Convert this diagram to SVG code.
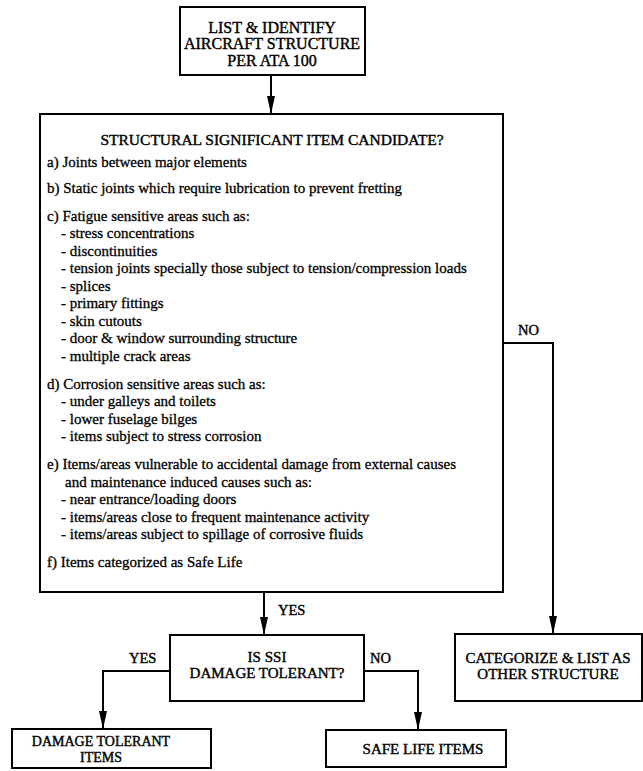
<svg xmlns="http://www.w3.org/2000/svg" width="643" height="771" viewBox="0 0 643 771">
<defs>
<marker id="arr" markerWidth="18" markerHeight="8" refX="18" refY="4" orient="auto" markerUnits="userSpaceOnUse" viewBox="0 0 18 8">
<path d="M0,0 L18,4 L0,8 Z" fill="#000"/>
</marker>
</defs>
<style>
.box{fill:#fff;stroke:#000;stroke-width:2}
.ln{fill:none;stroke:#000;stroke-width:2}
.t{font-family:"Liberation Serif","Times New Roman",serif;font-size:15px;fill:#000;stroke:#000;stroke-width:0.3}
.c{font-family:"Liberation Serif","Times New Roman",serif;font-size:15px;fill:#000;stroke:#000;stroke-width:0.4;text-anchor:middle}
.l{font-family:"Liberation Serif","Times New Roman",serif;font-size:14.5px;fill:#000;stroke:#000;stroke-width:0.4}
</style>
<rect width="643" height="771" fill="#fff"/>
<g id="connectors">
<line class="ln" x1="271" y1="75" x2="271" y2="114" marker-end="url(#arr)"/>
<line class="ln" x1="264" y1="592" x2="264" y2="635" marker-end="url(#arr)"/>
<polyline class="ln" points="503,343 553,343 553,634" marker-end="url(#arr)"/>
<polyline class="ln" points="170,671 103,671 103,729" marker-end="url(#arr)"/>
<polyline class="ln" points="364,671 418,671 418,730" marker-end="url(#arr)"/>
<text class="l" x="278" y="615">YES</text>
<text class="l" x="518" y="335">NO</text>
<text class="l" x="129" y="663">YES</text>
<text class="l" x="370" y="663">NO</text>
</g>
<g id="n1">
<rect class="box" x="180" y="7" width="185" height="68"/>
<text class="c" x="272" y="32.5" style="font-size:16px">LIST &amp; IDENTIFY</text>
<text class="c" x="272" y="49" style="font-size:16px">AIRCRAFT STRUCTURE</text>
<text class="c" x="272" y="65.5" style="font-size:16px">PER ATA 100</text>
</g>
<g id="n2">
<rect class="box" x="40" y="114" width="463" height="478"/>
<text class="c" x="272" y="144.5" style="font-size:15.5px">STRUCTURAL SIGNIFICANT ITEM CANDIDATE?</text>
<text class="t" x="47" y="166.5">a) Joints between major elements</text>
<text class="t" x="47" y="192.5">b) Static joints which require lubrication to prevent fretting</text>
<text class="t" x="47" y="220.5">c) Fatigue sensitive areas such as:</text>
<text class="t" x="61" y="238">- stress concentrations</text>
<text class="t" x="61" y="255.5">- discontinuities</text>
<text class="t" x="61" y="273">- tension joints specially those subject to tension/compression loads</text>
<text class="t" x="61" y="290.5">- splices</text>
<text class="t" x="61" y="308">- primary fittings</text>
<text class="t" x="61" y="325.5">- skin cutouts</text>
<text class="t" x="61" y="343">- door &amp; window surrounding structure</text>
<text class="t" x="61" y="360.5">- multiple crack areas</text>
<text class="t" x="47" y="388.5">d) Corrosion sensitive areas such as:</text>
<text class="t" x="61" y="406">- under galleys and toilets</text>
<text class="t" x="61" y="423.5">- lower fuselage bilges</text>
<text class="t" x="61" y="441">- items subject to stress corrosion</text>
<text class="t" x="47" y="469">e) Items/areas vulnerable to accidental damage from external causes</text>
<text class="t" x="65" y="486.5">and maintenance induced causes such as:</text>
<text class="t" x="61" y="504">- near entrance/loading doors</text>
<text class="t" x="61" y="521.5">- items/areas close to frequent maintenance activity</text>
<text class="t" x="61" y="539">- items/areas subject to spillage of corrosive fluids</text>
<text class="t" x="47" y="567">f) Items categorized as Safe Life</text>
</g>
<g id="n3">
<rect class="box" x="170" y="635" width="194" height="66"/>
<text class="c" x="267" y="662">IS SSI</text>
<text class="c" x="267" y="678">DAMAGE TOLERANT?</text>
</g>
<g id="n4">
<rect class="box" x="455" y="634" width="187" height="67"/>
<text class="c" x="548" y="662.5">CATEGORIZE &amp; LIST AS</text>
<text class="c" x="548" y="678.5">OTHER STRUCTURE</text>
</g>
<g id="n5">
<rect class="box" x="12" y="729" width="199" height="39"/>
<text class="c" x="101" y="746" style="font-size:14px">DAMAGE TOLERANT</text>
<text class="c" x="101" y="761.5" style="font-size:14px">ITEMS</text>
</g>
<g id="n6">
<rect class="box" x="326" y="730" width="180" height="37"/>
<text class="c" x="423" y="753.5">SAFE LIFE ITEMS</text>
</g>
</svg>
